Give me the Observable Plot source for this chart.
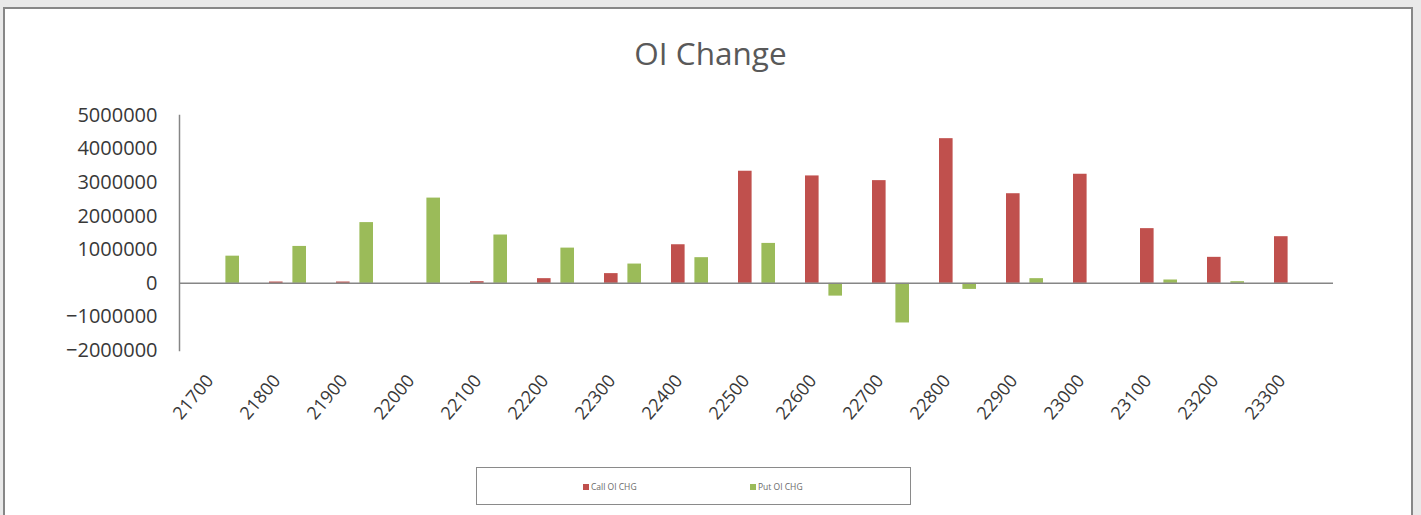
<!DOCTYPE html>
<html>
<head>
<meta charset="utf-8">
<script src="https://cdn.jsdelivr.net/npm/d3@7"></script>
<script src="https://cdn.jsdelivr.net/npm/@observablehq/plot@0.6"></script>
<style>
  html, body { margin: 0; padding: 0; }
  body { width: 1421px; height: 515px; overflow: hidden; background: #e9e9e9; position: relative; font-family: "Open Sans", sans-serif; }
  #box { position: absolute; left: 3px; top: 7px; width: 1406px; height: 520px; background: #fff; border: 2px solid #878787; border-bottom: none; }
  #title { position: absolute; left: 0; width: 1421px; top: 38px; line-height: 30px; text-align: center; font-size: 31.5px; color: #595959; }
  #chart { position: absolute; left: 0; top: 90px; }
  #legend { position: absolute; left: 476px; top: 467px; width: 433px; height: 36px; border: 1px solid #8a8a8a; background: #fff; }
  .item { position: absolute; top: 14px; font-size: 8.5px; line-height: 10px; color: #6a6a6a; white-space: nowrap; }
  .sw { display: inline-block; width: 6px; height: 6px; margin-right: 2px; vertical-align: 0px; }
</style>
</head>
<body>
<div id="box"></div>
<div id="title">OI Change</div>
<div id="chart"></div>
<div id="legend"></div>
<script>
const strikes = ["21700","21800","21900","22000","22100","22200","22300","22400","22500","22600","22700","22800","22900","23000","23100","23200","23300"];
const callOiChg = [0, 40000, 40000, 0, 50000, 140000, 290000, 1150000, 3340000, 3200000, 3060000, 4310000, 2670000, 3250000, 1630000, 775000, 1390000];
const putOiChg = [810000, 1100000, 1810000, 2540000, 1440000, 1050000, 575000, 765000, 1190000, -380000, -1180000, -180000, 140000, 0, 100000, 50000, 0];
const yTicks = [-2000000, -1000000, 0, 1000000, 2000000, 3000000, 4000000, 5000000];
const seriesNames = ["Call OI CHG", "Put OI CHG"];
const seriesColors = ["#c0504d", "#9bbb59"];

const rows = strikes.map((s, i) => ({strike: s, call: callOiChg[i], put: putOiChg[i]}));

const chart = Plot.plot({
  width: 1421,
  height: 360,
  marginLeft: 179,
  marginRight: 88,
  marginTop: 25,
  marginBottom: 100,
  style: {fontFamily: "'Open Sans', sans-serif", color: "#383838", background: "transparent", overflow: "visible"},
  x: {type: "band", domain: strikes, padding: 0, label: null},
  y: {domain: [-2000000, 5000000], label: null},
  marks: [
    Plot.barY(rows, {x: "strike", y: "call", fill: seriesColors[0], insetLeft: 15, insetRight: 38.4}),
    Plot.barY(rows, {x: "strike", y: "put", fill: seriesColors[1], insetLeft: 38.4, insetRight: 15}),
    Plot.ruleY([0], {stroke: "#868686", strokeWidth: 1.5}),
    Plot.frame({anchor: "left", stroke: "#868686", strokeWidth: 1.5}),
    Plot.axisY({ticks: yTicks, tickFormat: d3.format("d"), tickSize: 0, tickPadding: 22, fontSize: 20, label: null}),
    Plot.axisX({tickSize: 0, tickRotate: -50, tickPadding: 27, dx: -11, fontSize: 18, label: null})
  ]
});
document.getElementById("chart").appendChild(chart);

const legend = document.getElementById("legend");
const legendX = [106, 273];
seriesNames.forEach((name, i) => {
  const el = document.createElement("div");
  el.className = "item";
  el.style.left = legendX[i] + "px";
  el.innerHTML = `<span class="sw" style="background:${seriesColors[i]}"></span>${name}`;
  legend.appendChild(el);
});
</script>
</body>
</html>
